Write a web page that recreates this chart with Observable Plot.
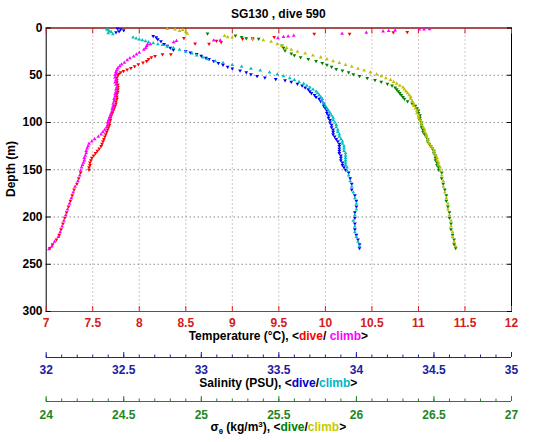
<!DOCTYPE html>
<html><head><meta charset="utf-8">
<script src="https://cdn.jsdelivr.net/npm/d3@7"></script>
<script src="https://cdn.jsdelivr.net/npm/@observablehq/plot@0.6"></script>
<style>
body{margin:0;background:#fff;}
#wrap{position:relative;width:535px;height:442px;background:#fff;font-family:'Liberation Sans',Arial,sans-serif;font-weight:bold;overflow:hidden}
#wrap svg{position:absolute;left:0;}
.lbl{position:absolute;left:45.7px;width:465.3px;text-align:center;font-size:12px;line-height:14px;white-space:nowrap;color:#000}
</style></head><body><div id="wrap"></div>
<script>
// ---------------- data: [depth (m), value] ----------------
const tempDive = [
[4.4,10.88],[4.5,10.73],[6.1,10.26],[6.1,9.88],[9.7,9.45],[11.4,9.22],[11.4,9.11],[10.6,8.48],[13.6,8.83],[15,8.88],[16.4,8.6],[16.7,8.75],
[27.8,8.34],[27.8,8.25],[29.6,8.17],[31,8.13],[33,8.1],[35,8.08],[36.6,8.04],[38.5,7.99],[40.5,7.95],[42.5,7.91],[44,7.87],[45.5,7.83],[47,7.8],[48.5,7.78],
[50,7.77],[52.5,7.76],[55,7.76],[57.5,7.76],[60,7.77],[62.5,7.77],[65,7.77],[67.5,7.77],[70,7.76],[72.5,7.76],[75,7.76],[77.5,7.75],[80,7.75],[82.5,7.74],
[85,7.73],[87.5,7.72],[90,7.71],[92.5,7.7],[95,7.69],[97.5,7.69],[100,7.68],[102.5,7.68],[105,7.67],[107.5,7.66],[110,7.65],[112.5,7.64],[115,7.63],
[117.5,7.62],[120,7.61],[122.5,7.6],[125,7.59],[127.5,7.57],[130,7.55],[132.5,7.53],[135,7.51],[137.5,7.49],[140,7.48],[142.5,7.47],[145,7.47],[147.5,7.46],[150,7.46],
[153,7.37],[159,7.35],[165,7.33],[171,7.3],[177,7.28],[183,7.26],[189,7.24],[195,7.22],[201,7.2],[207,7.18],[213,7.16],[219,7.14],[224,7.11],[229,7.07],[233,7.04]
];
const tempClimb = [
[1.2,11.12],[1.4,11.06],[1.6,11.01],[2.5,10.75],[3,10.68],[3.5,10.62],[5,10.44],[6,10.18],[8,9.66],[8.8,9.6],[9.5,9.55],[10.7,9.49],[13.2,8.87],[13.2,8.8],
[13.7,8.4],[15,8.37],[17,8.12],[17.3,8.09],[19,8.08],[21,8.07],[23,8.05],[26,8.0],[28,7.97],[30,7.94],[32,7.9],[34,7.87],[36.6,7.84],[38.5,7.81],[40.5,7.79],
[42.5,7.77],[44.5,7.76],[46.5,7.75],[48.5,7.75],
[50,7.74],[52.5,7.74],[55,7.75],[57.5,7.74],[60,7.75],[62.5,7.76],[65,7.75],[67.5,7.75],[70,7.74],[72.5,7.74],[75,7.73],[77.5,7.73],[80,7.72],[82.5,7.72],
[85,7.71],[87.5,7.71],[90,7.7],[92.5,7.69],[95,7.68],[97.5,7.67],[100,7.66],[102.5,7.66],[105,7.65],[107.5,7.63],[110,7.61],[112.5,7.59],[115,7.56],[117.5,7.52],
[120,7.49],[122.5,7.46],[125,7.45],[127.5,7.44],[130,7.43],[132.5,7.43],[135,7.42],[137.5,7.41],[140,7.41],[142.5,7.4],[145,7.39],[147.5,7.38],
[151,7.37],[156,7.36],[162,7.34],[168,7.31],[174,7.29],[180,7.27],[186,7.25],[192,7.23],[198,7.21],[204,7.19],[210,7.17],[216,7.15],[221,7.13],[226,7.09],[231,7.06],[234,7.03]
];
const salDive = [
[0.5,32.46],[1.5,32.48],[2.5,32.5],[3.5,32.47],[4.5,32.45],[8.5,32.69],[10,32.71],[12,32.72],[14,32.74],[17,32.76],[19,32.78],[21,32.8],[23,32.82],[24.5,32.9],
[26,32.93],[27.5,32.97],[29.5,33.0],[31.5,33.03],[33,33.05],[35,33.08],[37,33.11],[39,33.14],[41,33.17],[43,33.2],[45,33.25],[47,33.29],[49,33.32],[51,33.36],
[52.5,33.41],[54,33.48],[55.5,33.54],[57,33.58],[59,33.62],[61,33.65],[63,33.67],[65,33.69],[67,33.7],[69,33.71],[71,33.73],
[73,33.74],[75,33.76],[77.5,33.77],[80,33.79],[82.5,33.79],[85,33.8],[87.5,33.81],[90,33.81],[92.5,33.82],[95,33.82],[97.5,33.83],[100,33.83],[102.5,33.84],
[105,33.84],[107.5,33.85],[110,33.85],[112.5,33.85],[115,33.86],[117.5,33.87],[120,33.88],[122.5,33.89],[125,33.89],[127.5,33.89],[130,33.89],[132.5,33.89],
[135,33.9],[137.5,33.9],[140,33.9],[142.5,33.91],[145,33.91],[147.5,33.92],[150,33.93],
[153,33.95],[159,33.96],[165,33.97],[171,33.97],[177,33.99],[183,34.0],[189,34.0],[195,33.99],[201,33.99],[207,33.99],[213,33.99],[219,34.0],[224,34.01],[229,34.02],[233,34.02]
];
const salClimb = [
[1.5,32.39],[2.5,32.4],[3.5,32.41],[4.5,32.42],[5.5,32.4],[6.5,32.43],[10,32.56],[11,32.58],[12,32.6],[13,32.62],[14,32.64],[15,32.66],[16,32.69],[17,32.72],
[18,32.75],[19.5,32.78],[21,32.82],[23,32.86],[25,32.9],[27,32.94],[29,32.97],[31,33.01],[33,33.04],[35,33.09],[37,33.14],[39,33.2],[41,33.26],[43,33.32],
[45,33.38],[47,33.44],[49,33.49],[51,33.53],[53,33.57],[55,33.6],[57,33.63],[59,33.66],[61,33.68],[63,33.7],[65,33.72],[67,33.74],[69,33.75],
[71,33.76],[73,33.77],[75,33.78],[77.5,33.78],[80,33.79],[82.5,33.8],[85,33.81],[87.5,33.82],[90,33.83],[92.5,33.84],[95,33.85],[97.5,33.85],[100,33.86],
[102.5,33.87],[105,33.87],[107.5,33.88],[110,33.88],[112.5,33.89],[115,33.89],[117.5,33.9],[120,33.91],[122.5,33.91],[125,33.92],[127.5,33.92],[130,33.92],
[132.5,33.93],[135,33.93],[137.5,33.93],[140,33.93],[142.5,33.93],[145,33.93],[147.5,33.94],
[151,33.94],[156,33.95],[162,33.96],[168,33.97],[174,33.98],[180,33.99],[186,34.0],[192,34.0],[198,33.99],[204,33.98],[210,33.99],[216,33.99],[221,34.0],[226,34.01],[231,34.02]
];
const sigDive = [
[6,25.04],[8,25.22],[9.5,25.26],[11,25.29],[11,25.33],[11.5,25.37],[18.5,25.52],[21,25.53],[24,25.54],[27,25.58],[29,25.6],[31,25.64],[33,25.69],[35,25.74],
[37,25.78],[39,25.81],[41,25.84],[43.5,25.87],[45,25.91],[47,25.95],[49,25.98],[51,26.02],[53,26.07],[55,26.12],[57,26.16],[59,26.2],[61,26.23],[63,26.25],
[65,26.26],[67,26.27],[69,26.28],[71,26.29],
[73,26.3],[75,26.31],[77.5,26.33],[80,26.36],[82.5,26.38],[85,26.39],[87.5,26.4],[90,26.4],[92.5,26.41],[95,26.41],[97.5,26.41],[100,26.42],[102.5,26.42],
[105,26.42],[107.5,26.43],[110,26.43],[112.5,26.44],[115,26.45],[117.5,26.46],[120,26.46],[122.5,26.47],[125,26.48],[127.5,26.49],[130,26.5],[132.5,26.5],
[135,26.51],[137.5,26.51],[140,26.51],[142.5,26.52],[145,26.52],[147.5,26.53],[150,26.53],
[153,26.55],[159,26.55],[165,26.56],[171,26.57],[177,26.58],[183,26.58],[189,26.59],[195,26.6],[201,26.6],[207,26.61],[213,26.61],[219,26.62],[224,26.63],[229,26.63],[233,26.64]
];
const sigClimb = [
[1,24.78],[1.5,24.83],[2,24.88],[3,24.86],[4,24.9],[6,24.91],[8.5,25.15],[9.6,25.17],[10,25.2],[11.5,25.33],[13,25.4],[14.5,25.45],[17,25.49],[19,25.52],
[21,25.55],[23,25.58],[25,25.62],[27,25.67],[29,25.72],[31,25.77],[33,25.81],[35,25.85],[37,25.89],[39,25.93],[41,25.97],[43,26.01],[45,26.05],[47,26.09],
[49,26.13],[51,26.16],[53,26.19],[55,26.22],[57,26.24],[59,26.26],[61,26.28],[63,26.3],[65,26.31],[67,26.32],[69,26.33],[71,26.34],
[73,26.35],[75,26.35],[77.5,26.36],[80,26.37],[82.5,26.37],[85,26.38],[87.5,26.39],[90,26.39],[92.5,26.4],[95,26.4],[97.5,26.41],[100,26.42],[102.5,26.42],
[105,26.43],[107.5,26.44],[110,26.44],[112.5,26.45],[115,26.45],[117.5,26.46],[120,26.46],[122.5,26.47],[125,26.48],[127.5,26.49],[130,26.5],[132.5,26.5],
[135,26.51],[137.5,26.52],[140,26.52],[142.5,26.53],[145,26.53],[147.5,26.54],
[151,26.54],[156,26.55],[162,26.56],[168,26.56],[174,26.57],[180,26.58],[186,26.59],[192,26.59],[198,26.6],[204,26.61],[210,26.61],[216,26.62],[221,26.62],[226,26.63],[231,26.64]
];
// tick labels
const tempTicks = [7,7.5,8,8.5,9,9.5,10,10.5,11,11.5,12];
const depthTicks = [0,50,100,150,200,250,300];
const salTicks = [32,32.5,33,33.5,34,34.5,35];
const sigTicks = [24,24.5,25,25.5,26,26.5,27];
const salMinor = d3.range(32,35.001,0.1).map(v => +v.toFixed(1));
const sigMinor = d3.range(24,27.001,0.1).map(v => +v.toFixed(1));

// ---------------- style ----------------
const C = {red:"#ff0000", mag:"#ff00ff", blue:"#0000ff", cyan:"#00bfbf", green:"#008000", olive:"#bfbf00",
  tAxis:"#d42020", sAxis:"#2020a0", gAxis:"#1f861f"};
const W = 535, H = 345, mL = 45.7, mR = 24, mT = 27.5, mB = 34;
const font = {fontFamily:"'Liberation Sans', Arial, sans-serif", fontSize:"11px", fontWeight:"bold", background:"transparent"};
const yScale = {domain:[0,300], reverse:true};
const fmt = d => String(d);
const wrap = document.getElementById("wrap");
const R = 1.4;
const dotsOf = (data, color, down) => Plot.dot(data, {x: d => d[1], y: d => d[0], symbol:"triangle", rotate: down ? 180 : 0, r: R, fill: color});

// main temperature plot
const main = Plot.plot({
  width: W, height: H, marginLeft: mL, marginRight: mR, marginTop: mT, marginBottom: mB,
  style: {...font, background:"#fff"},
  x: {domain:[7,12]}, y: yScale,
  marks: [
    Plot.gridX(tempTicks.slice(1,-1), {stroke:"#b08c8c", strokeOpacity:1, strokeDasharray:"1,3"}),
    Plot.gridY(depthTicks.slice(1,-1), {stroke:"#555", strokeOpacity:1, strokeDasharray:"1,3"}),
    Plot.frame({stroke:"#000"}),
    Plot.ruleY([0,300], {stroke: C.tAxis}),
    Plot.axisX(tempTicks, {anchor:"bottom", tickSize:-5, tickPadding:11.5, tickFormat: fmt, color:C.tAxis, label:null, fontSize:"12px"}),
    Plot.axisX(tempTicks, {anchor:"top", tickSize:-5, tickFormat:() => "", color:C.tAxis, label:null}),
    Plot.axisY(depthTicks, {anchor:"left", tickSize:-5, tickPadding:8.7, tickFormat: fmt, label:null, color:"#000", fontSize:"12px"}),
    Plot.axisY(depthTicks, {anchor:"right", tickSize:-5, tickFormat:() => "", label:null, color:"#000"}),
    dotsOf(tempDive, C.red, true),
    dotsOf(tempClimb, C.mag, false)
  ]
});
main.style.top = "0px";
wrap.appendChild(main);

// overlay salinity and density plots sharing the plot frame
function overlay(domain, dive, climb, cd, cc) {
  const p = Plot.plot({
    width: W, height: H, marginLeft: mL, marginRight: mR, marginTop: mT, marginBottom: mB,
    style: font, x: {domain, axis:null}, y: {...yScale, axis:null},
    marks: [dotsOf(dive, cd, true), dotsOf(climb, cc, false)]
  });
  p.style.top = "0px";
  wrap.appendChild(p);
}
overlay([32,35], salDive, salClimb, C.blue, C.cyan);
overlay([24,27], sigDive, sigClimb, C.green, C.olive);

// secondary axes below
function extraAxis(domain, major, minor, color, lineY, pad) {
  const mt = 8;
  const p = Plot.plot({
    width: W, height: 30, marginLeft: mL, marginRight: mR, marginTop: mt, marginBottom: 30 - mt,
    style: font, x: {domain}, y: {domain:[0,1], axis:null},
    marks: [
      Plot.ruleY([0], {stroke: color}),
      Plot.axisX(minor, {anchor:"bottom", tickSize:-2.5, tickFormat:() => "", color, label:null}),
      Plot.axisX(major, {anchor:"bottom", tickSize:-5, tickPadding:pad, tickFormat: fmt, color, label:null, fontSize:"12px"})
    ]
  });
  p.style.top = (lineY - mt) + "px";
  wrap.appendChild(p);
}
extraAxis([32,35], salTicks, salMinor, C.sAxis, 356.7, 12.6);
extraAxis([24,27], sigTicks, sigMinor, C.gAxis, 400.7, 13.5);

// texts
function addDiv(html, top, cls, extra) {
  const d = document.createElement("div");
  d.className = cls || "lbl";
  d.innerHTML = html;
  d.style.top = top + "px";
  if (extra) Object.assign(d.style, extra);
  wrap.appendChild(d);
  return d;
}
addDiv("SG130 , dive 590", 7);
addDiv(`Temperature (°C), &lt;<span style="color:${C.red}">dive</span>/ <span style="color:${C.mag}">climb</span>&gt;`, 329);
addDiv(`Salinity (PSU), &lt;<span style="color:#0000cc">dive</span>/<span style="color:#00b4c8">climb</span>&gt;`, 376);
addDiv(`σ<sub style="font-size:8px;vertical-align:-3px;line-height:0">θ</sub> (kg/m<sup style="font-size:8px;vertical-align:4px;line-height:0">3</sup>), &lt;<span style="color:#008000">dive</span>/<span style="color:#c8c800">climb</span>&gt;`, 419.5);
addDiv("Depth (m)", 169, "lbl", {left:"11px", width:"auto", transform:"translate(-50%,-50%) rotate(-90deg)"});
</script></body></html>
